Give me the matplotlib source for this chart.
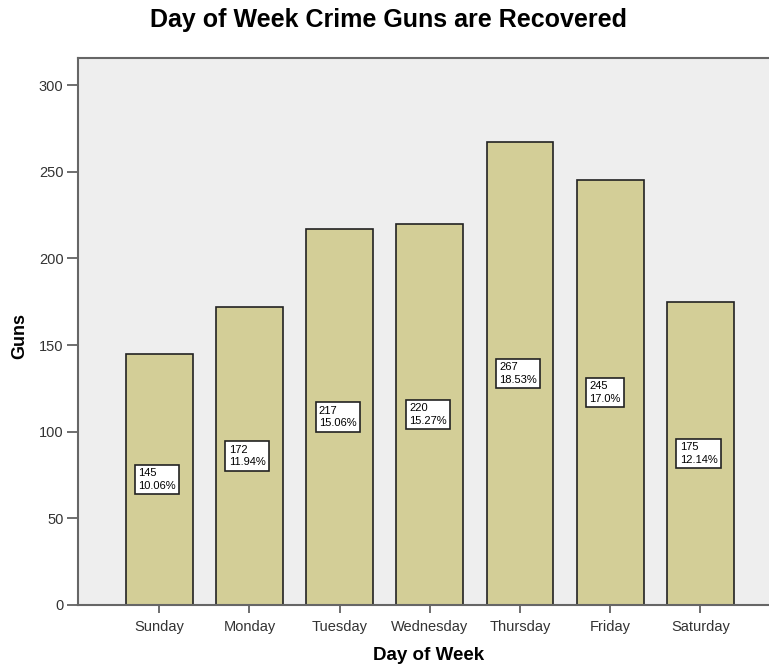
import matplotlib
matplotlib.use("Agg")
import matplotlib.pyplot as plt

days = ["Sunday", "Monday", "Tuesday", "Wednesday", "Thursday", "Friday", "Saturday"]
guns = [145, 172, 217, 220, 267, 245, 175]
pct_labels = ["10.06%", "11.94%", "15.06%", "15.27%", "18.53%", "17.0%", "12.14%"]
yticks = [0, 50, 100, 150, 200, 250, 300]

plt.rcParams['font.family'] = ['Liberation Sans', 'DejaVu Sans']

fig = plt.figure(figsize=(7.69, 6.69), dpi=100)
ax = fig.add_axes([78/769, 1-605/669, 1-78/769, (605-58)/669])
ax.set_facecolor('#EEEEEE')

x = list(range(len(days)))
ax.bar(x, guns, width=0.74, color='#D3CE97', edgecolor='#222222', linewidth=1.2, zorder=2)

for xi, v, p in zip(x, guns, pct_labels):
    ax.text(xi - 0.23, v / 2, f"{v}\n{p}", fontsize=8, ha='left', va='center',
            linespacing=1.35, zorder=3,
            bbox=dict(boxstyle='square,pad=0.3', facecolor='white', edgecolor='#222222', linewidth=1.2))

ax.set_xlim(-0.9, 6.76)
ax.set_ylim(0, 315.6)
ax.set_xticks(x)
ax.set_xticklabels(days, fontsize=10.5, color='#333333')
ax.set_yticks(yticks)
ax.set_yticklabels([str(t) for t in yticks], fontsize=10.5, color='#333333')
ax.tick_params(axis='x', direction='out', length=6, width=1.2, color='#555555', pad=5)
ax.tick_params(axis='y', direction='out', length=8, width=1.2, color='#555555', pad=2.5)

for s in ['left', 'bottom', 'top']:
    ax.spines[s].set_color('#666666')
    ax.spines[s].set_linewidth(1.5)
ax.spines['right'].set_visible(False)

ax.set_xlabel("Day of Week", fontsize=13.5, fontweight='bold', va='center')
ax.xaxis.set_label_coords((429-78)/(769-78), -(655-605)/(605-58))
ax.set_ylabel("Guns", fontsize=13, fontweight='bold', va='center')
ax.yaxis.set_label_coords(-(78-20)/(769-78), (605-336)/(605-58))
fig.text(389/769, 1-20/669, "Day of Week Crime Guns are Recovered", fontsize=18,
         fontweight='bold', ha='center', va='center')

fig.savefig("out.png", dpi=100)
